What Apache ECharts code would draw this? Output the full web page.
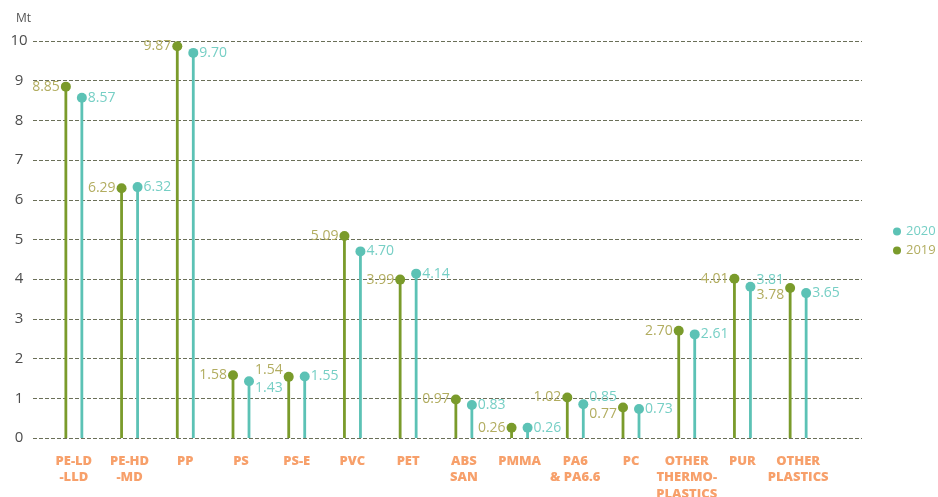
<!DOCTYPE html>
<html>
<head>
<meta charset="utf-8">
<script src="https://cdn.jsdelivr.net/npm/echarts@6/dist/echarts.min.js"></script>
<style>
  html, body { margin: 0; padding: 0; background: #fff; }
  #chart { width: 938px; height: 497px; }
</style>
</head>
<body>
<div id="chart"></div>
<script>
// categories (labels under the axis, line breaks as in the original)
const categories = ['PE-LD\n-LLD', 'PE-HD\n-MD', 'PP', 'PS', 'PS-E', 'PVC', 'PET', 'ABS\nSAN', 'PMMA',
  'PA6\n& PA6.6', 'PC', 'OTHER\nTHERMO-\nPLASTICS', 'PUR', 'OTHER\nPLASTICS']

const values2019 = [8.85, 6.29, 9.87, 1.58, 1.54, 5.09, 3.99, 0.97, 0.26, 1.02, 0.77, 2.70, 4.01, 3.78]
const values2020 = [8.57, 6.32, 9.70, 1.43, 1.55, 4.70, 4.14, 0.83, 0.26, 0.85, 0.73, 2.61, 3.81, 3.65]

const yTicks = [0, 10, 1] // min, max, interval

const OLIVE = '#7a9b2b'
const OLIVE_TXT = '#b2ad60'
const TEAL = '#5cc2b5'
const TEAL_TXT = '#76cfc5'
const ORANGE = '#f7a06b'
const FONT = '"Open Sans", sans-serif'

let myChart = echarts.init(document.getElementById('chart'))

// a 2020 label (right of its dot) and the next 2019 label (left of its dot) run into
// each other when the values are close: push the higher one up, the lower one down
function labelShift(series, i) {
  let a, b
  if (series === '2020') { a = values2020[i]; b = values2019[i + 1] }
  else { a = values2019[i]; b = values2020[i - 1] }
  if (b === undefined || Math.abs(a - b) > 0.4) return 0
  return a >= b ? -7 : 7
}

// stick + dot, value label on one side of the dot
function lollipop(name, offset, color, txtColor, side) {
  return function (params, api) {
    const top = api.coord([api.value(0), api.value(1)])
    const base = api.coord([api.value(0), 0])
    const x = top[0] + offset
    return {
      type: 'group',
      children: [
        {type: 'line', shape: {x1: x, y1: base[1], x2: x, y2: top[1]}, style: {stroke: color, lineWidth: 2.8}},
        {type: 'circle', shape: {cx: x, cy: top[1], r: 5}, style: {fill: color}},
        {
          type: 'text',
          x: side === 'left' ? x - 6 : x + 6,
          y: top[1] + labelShift(name, params.dataIndex),
          style: {
            text: api.value(1).toFixed(2),
            align: side === 'left' ? 'right' : 'left',
            verticalAlign: 'middle',
            fill: txtColor,
            font: '14px ' + FONT
          }
        }
      ]
    }
  }
}

myChart.setOption({
  animation: false,
  title: {
    text: 'Mt', left: 11, top: 8,
    textStyle: {fontSize: 12, fontWeight: 'normal', color: '#555', fontFamily: FONT}
  },
  legend: {
    orient: 'vertical', left: 888, top: 220,
    itemWidth: 8, itemHeight: 8, itemGap: 6,
    icon: 'circle',
    textStyle: {fontSize: 13, fontFamily: FONT},
    data: [
      {name: '2020', textStyle: {color: TEAL_TXT}},
      {name: '2019', textStyle: {color: OLIVE_TXT}}
    ]
  },
  grid: [
    {left: 33, right: 76, top: 41, bottom: 59, outerBoundsMode: 'none'},   // dashed grid lines + y labels
    {left: 46, right: 112, top: 41, bottom: 59, outerBoundsMode: 'none'}   // categories
  ],
  xAxis: [
    {gridIndex: 0, type: 'value', show: false, min: 0, max: 1},
    {
      gridIndex: 1, type: 'category', data: categories,
      axisLine: {show: false}, axisTick: {show: false},
      axisLabel: {
        interval: 0, margin: 15, color: ORANGE, fontWeight: 800,
        fontSize: 13, lineHeight: 16.5, fontFamily: FONT, verticalAlign: 'top'
      }
    }
  ],
  yAxis: [
    {
      gridIndex: 0, type: 'value', min: yTicks[0], max: yTicks[1], interval: yTicks[2],
      axisLine: {show: false}, axisTick: {show: false},
      axisLabel: {margin: 14, align: 'center', color: '#4d4d4d', fontSize: 15, fontFamily: FONT},
      splitLine: {lineStyle: {type: [4, 2], color: '#6a6f58', width: 1}}
    },
    {gridIndex: 1, type: 'value', min: yTicks[0], max: yTicks[1], show: false}
  ],
  series: [
    {
      name: '2020', type: 'custom', xAxisIndex: 1, yAxisIndex: 1,
      itemStyle: {color: TEAL},
      renderItem: lollipop('2020', 8, TEAL, TEAL_TXT, 'right'),
      data: values2020.map((v, i) => [i, v])
    },
    {
      name: '2019', type: 'custom', xAxisIndex: 1, yAxisIndex: 1,
      itemStyle: {color: OLIVE},
      renderItem: lollipop('2019', -8, OLIVE, OLIVE_TXT, 'left'),
      data: values2019.map((v, i) => [i, v])
    }
  ]
})
</script>
</body>
</html>
